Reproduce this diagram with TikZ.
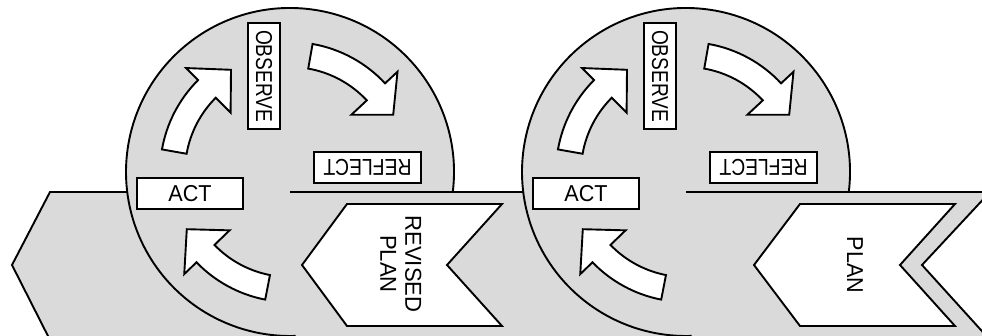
\documentclass[tikz,border=0pt]{standalone}
\usepackage{fontspec}
\setmainfont{Liberation Sans}
\usetikzlibrary{calc}
\definecolor{bandgray}{RGB}{218,218,218}
\tikzset{
  outl/.style={draw=black, line width=1.9pt, line join=miter},
  graybg/.style={outl, fill=bandgray},
  cyc/.style={outl, fill=white},
  lbl/.style={font=\fontsize{23}{25}\selectfont, align=center, inner sep=0pt},
  wbox/.style={outl, fill=white, lbl},
}
\newcommand\cyclearrow[4]{%
  \draw[cyc] ($(#1)+(#2:130)$) arc[start angle=#2, end angle=#3, radius=130pt]
    -- ($(#1)+(#3:147)$) -- ($(#1)+(#4:118)$) -- ($(#1)+(#3:84)$) -- ($(#1)+(#3:105)$)
    arc[start angle=#3, end angle=#2, radius=105pt] -- cycle;}
\newcommand\sq[2]{\scalebox{#1}[1]{#2}}
\begin{document}
\begin{tikzpicture}[x=1pt,y=1pt]
\useasboundingbox (0,0) rectangle (982,336);
\clip (0,0) rectangle (982,336);
\coordinate (c1) at (290,164);
\coordinate (c2) at (686,164);
\coordinate (bandTL) at (50,144);
% band
\draw[graybg] (bandTL) -- (12,71) -- (50,-4) -- (990,-4) -- (922,71) -- (990,144) -- cycle;
% circles
\fill[bandgray] (c1) circle[radius=164pt];
\draw[outl] (c1 |- bandTL) -- ++(175,0);
\fill[bandgray] (c2) circle[radius=164pt];
\draw[outl] (c2 |- bandTL) -- ++(310,0);
\draw[outl] ($(c1)+(-7:164)$) arc[start angle=-7, end angle=272, radius=164pt];
\draw[outl] ($(c2)+(-7:164)$) arc[start angle=-7, end angle=272, radius=164pt];
% chevrons
\draw[outl, fill=white] (302,71) -- (347,132) -- (502,132) -- (447,71) -- (502,10) -- (347,10) -- cycle;
\node[lbl, rotate=-90] (revised) at (401,72) {\sq{0.96}{REVISED}\\\sq{0.96}{PLAN}};
\draw[outl, fill=white] (754,71) -- (800,132) -- (955,132) -- (900,71) -- (955,10) -- (800,10) -- cycle;
\node[lbl, rotate=-90] (plan) at (855,71) {\sq{0.94}{PLAN}};
% cycle 1
\node[wbox, rotate=-90, minimum width=106pt, minimum height=32pt] (obs1) at (264,260) {\sq{0.83}{OBSERVE}};
\node[wbox, rotate=180, minimum width=107pt, minimum height=31pt] (ref1) at (367.5,168.5) {\sq{0.84}{REFLECT}};
\node[wbox, minimum width=106pt, minimum height=31pt] (act1) at (190,142.5) {\sq{0.94}{ACT}};
\cyclearrow{c1}{170}{135}{120}
\cyclearrow{c1}{80}{43}{29}
\cyclearrow{c1}{259}{224}{209}
% cycle 2
\node[wbox, rotate=-90, minimum width=106pt, minimum height=32pt] (obs2) at (660,260) {\sq{0.83}{OBSERVE}};
\node[wbox, rotate=180, minimum width=107pt, minimum height=31pt] (ref2) at (763.5,168.5) {\sq{0.84}{REFLECT}};
\node[wbox, minimum width=106pt, minimum height=31pt] (act2) at (586,142.5) {\sq{0.94}{ACT}};
\cyclearrow{c2}{170}{135}{120}
\cyclearrow{c2}{80}{43}{29}
\cyclearrow{c2}{259}{224}{209}
\end{tikzpicture}
\end{document}
